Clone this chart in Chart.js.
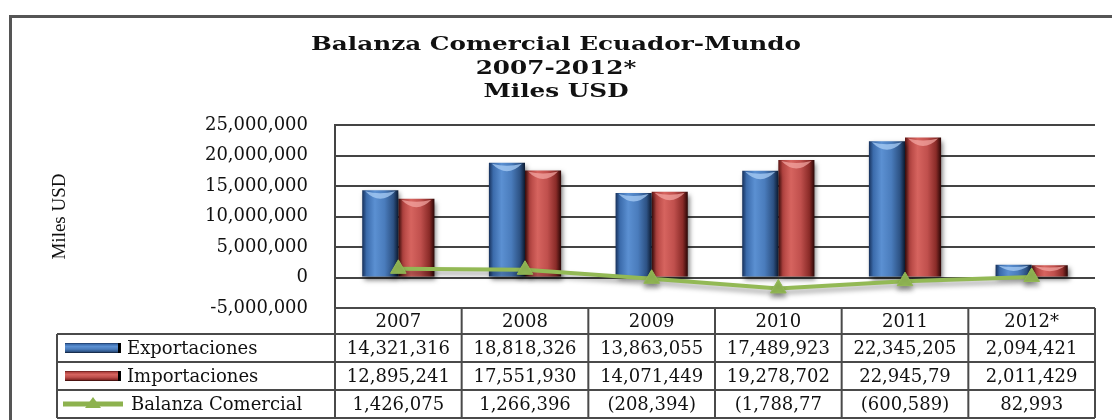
<!DOCTYPE html>
<html lang="es">
<head>
<meta charset="utf-8">
<title>Balanza Comercial Ecuador-Mundo</title>
<script src="https://cdn.jsdelivr.net/npm/chart.js@4.4.1/dist/chart.umd.min.js"></script>
<style>
  html, body { margin: 0; padding: 0; background: #fff; }
  #wrap { width: 1112px; height: 420px; position: relative; }
</style>
</head>
<body>
<div id="wrap"><canvas id="balanzaCanvas"></canvas></div>
<script>
// Balanza Comercial Ecuador-Mundo 2007-2012*, miles USD

const years = ['2007', '2008', '2009', '2010', '2011', '2012*'];
const exportaciones = [14321316, 18818326, 13863055, 17489923, 22345205, 2094421];
const importaciones = [12895241, 17551930, 14071449, 19278702, 22945790, 2011429];
const balanza = [1426075, 1266396, -208394, -1788770, -600589, 82993];

// texts as printed in the source table (two cells are cut off there)
const exportText = ['14,321,316', '18,818,326', '13,863,055', '17,489,923', '22,345,205', '2,094,421'];
const importText = ['12,895,241', '17,551,930', '14,071,449', '19,278,702', '22,945,79', '2,011,429'];
const balanzaText = ['1,426,075', '1,266,396', '(208,394)', '(1,788,77', '(600,589)', '82,993'];

const seriesNames = ['Exportaciones', 'Importaciones', 'Balanza Comercial'];
const titleLines = ['Balanza Comercial Ecuador-Mundo', '2007-2012*', 'Miles USD'];
const yMin = -5000000;
const yMax = 25000000;
const yStep = 5000000;

const SERIF = '"DejaVu Serif", "Liberation Serif", serif';
const GROUP = 0.57; // share of a category taken by the pair of bars

const blueStops = [[0, '#16305a'], [0.12, '#3b6bab'], [0.35, '#5b90d2'], [0.62, '#4a7cbc'], [0.86, '#2d5284'], [1, '#0c1a30']];
const redStops = [[0, '#5a1412'], [0.12, '#b0423f'], [0.35, '#d6645f'], [0.62, '#c0504d'], [0.86, '#8a2b28'], [1, '#2a0605']];

// horizontal gradient for a bar, placed from the x scale
function barFill(context, stops) {
    const chart = context.chart;
    const area = chart.chartArea;
    const xs = chart.scales.x;
    if (!area || !xs) return stops[3][1];
    const catW = (area.right - area.left) / years.length;
    const barW = catW * GROUP / 2;
    const left = xs.getPixelForValue(context.dataIndex) - barW + context.datasetIndex * barW;
    const g = chart.ctx.createLinearGradient(left, 0, left + barW, 0);
    stops.forEach(s => g.addColorStop(s[0], s[1]));
    return g;
}

// soft drop shadow under bars and line
const shadowPlugin = {
    id: 'shadows',
    beforeDatasetDraw(chart, args) {
        const ctx = chart.ctx;
        ctx.save();
        if (args.index === 2) {
            ctx.shadowColor = 'rgba(0,0,0,0.35)';
            ctx.shadowBlur = 5;
            ctx.shadowOffsetY = 4;
        } else {
            ctx.shadowColor = 'rgba(0,0,0,0.55)';
            ctx.shadowBlur = 5;
            ctx.shadowOffsetX = 2;
            ctx.shadowOffsetY = 3;
        }
    },
    afterDatasetDraw(chart, args) {
        chart.ctx.restore();
        if (args.index > 1) return;
        // light cap on top of each cylinder
        const ctx = chart.ctx;
        const cap = args.index === 0 ? 'rgba(170,205,245,0.75)' : 'rgba(245,170,165,0.7)';
        args.meta.data.forEach(bar => {
            const p = bar.getProps(['x', 'y', 'width', 'base']);
            const h = p.base - p.y;
            if (h < 6) return;
            const l = p.x - p.width / 2 + 3;
            const r = p.x + p.width / 2 - 3;
            const d = Math.min(10, h * 0.6);
            ctx.save();
            ctx.fillStyle = cap;
            ctx.beginPath();
            ctx.moveTo(l, p.y + 1);
            ctx.quadraticCurveTo(p.x, p.y + d * 1.6, r, p.y + 1);
            ctx.quadraticCurveTo(p.x, p.y + d * 0.5, l, p.y + 1);
            ctx.fill();
            ctx.restore();
        });
    }
};

// outer frame and title
const framePlugin = {
    id: 'frame',
    beforeDraw(chart) {
        const ctx = chart.ctx;
        ctx.save();
        ctx.fillStyle = '#fff';
        ctx.fillRect(0, 0, chart.width, chart.height);
        ctx.strokeStyle = '#555';
        ctx.lineWidth = 3;
        ctx.beginPath();
        ctx.moveTo(10.5, chart.height + 5);
        ctx.lineTo(10.5, 16.5);
        ctx.lineTo(chart.width + 5, 16.5);
        ctx.stroke();
        ctx.restore();
    },
    afterDraw(chart) {
        const ctx = chart.ctx;
        ctx.save();
        ctx.font = 'bold 19px ' + SERIF;
        ctx.fillStyle = '#111';
        ctx.textAlign = 'center';
        ctx.textBaseline = 'alphabetic';
        titleLines.forEach((t, i) => {
            ctx.save();
            ctx.translate(chart.width / 2, 50 + i * 23.5);
            ctx.scale(1.3, 1);
            ctx.fillText(t, 0, 0);
            ctx.restore();
        });
        ctx.restore();
    }
};

function legendKey(ctx, i, cx, cy) {
    if (i === 2) {
        ctx.strokeStyle = '#8db24e';
        ctx.lineWidth = 5;
        ctx.beginPath();
        ctx.moveTo(cx - 30, cy);
        ctx.lineTo(cx + 30, cy);
        ctx.stroke();
        ctx.fillStyle = '#8db24e';
        ctx.beginPath();
        ctx.moveTo(cx, cy - 7);
        ctx.lineTo(cx + 8, cy + 4);
        ctx.lineTo(cx - 8, cy + 4);
        ctx.closePath();
        ctx.fill();
        return;
    }
    const stops = i === 0 ? blueStops : redStops;
    const g = ctx.createLinearGradient(0, cy - 5, 0, cy + 5);
    stops.forEach(s => g.addColorStop(s[0], s[1]));
    ctx.fillStyle = g;
    ctx.fillRect(cx - 28, cy - 5, 54, 10);
    ctx.fillStyle = '#000';
    ctx.fillRect(cx + 25, cy - 5, 3, 10);
}

// data table under the plot
const tablePlugin = {
    id: 'dataTable',
    afterDraw(chart) {
        const ctx = chart.ctx;
        const area = chart.chartArea;
        const n = years.length;
        const colW = (area.right - area.left) / n;
        const top = area.bottom;
        const headH = 26;
        const rowH = 28;
        const legendLeft = 57;
        const rowsTop = top + headH;
        const bottom = rowsTop + rowH * 3;

        ctx.save();
        ctx.strokeStyle = '#4a4a4a';
        ctx.lineWidth = 2;
        ctx.beginPath();
        ctx.moveTo(area.left, top);
        ctx.lineTo(area.right, top);
        for (let r = 0; r <= 3; r++) {
            ctx.moveTo(legendLeft, rowsTop + r * rowH);
            ctx.lineTo(area.right, rowsTop + r * rowH);
        }
        for (let i = 0; i <= n; i++) {
            ctx.moveTo(area.left + i * colW, top);
            ctx.lineTo(area.left + i * colW, bottom);
        }
        ctx.moveTo(legendLeft, rowsTop);
        ctx.lineTo(legendLeft, bottom);
        ctx.stroke();

        ctx.fillStyle = '#111';
        ctx.font = '18px ' + SERIF;
        ctx.textBaseline = 'middle';
        ctx.textAlign = 'center';
        years.forEach((y, i) => {
            ctx.fillText(y, area.left + (i + 0.5) * colW, top + headH / 2 + 1);
        });
        [exportText, importText, balanzaText].forEach((row, r) => {
            const cy = rowsTop + (r + 0.5) * rowH + 1;
            row.forEach((t, i) => {
                ctx.fillText(t, area.left + (i + 0.5) * colW, cy);
            });
        });

        ctx.textAlign = 'left';
        seriesNames.forEach((name, r) => {
            const cy = rowsTop + (r + 0.5) * rowH;
            legendKey(ctx, r, legendLeft + 36, cy);
            ctx.fillStyle = '#111';
            ctx.fillText(name, r === 2 ? legendLeft + 74 : legendLeft + 70, cy + 1);
        });
        ctx.restore();
    }
};

function createBalanzaChart() {
    const canvas = document.getElementById('balanzaCanvas');
    if (!canvas) return;

    new Chart(canvas.getContext('2d'), {
        type: 'bar',
        data: {
            labels: years,
            datasets: [{
                label: seriesNames[0],
                data: exportaciones,
                backgroundColor: c => barFill(c, blueStops),
                barPercentage: 1,
                categoryPercentage: GROUP,
                order: 1
            }, {
                label: seriesNames[1],
                data: importaciones,
                backgroundColor: c => barFill(c, redStops),
                barPercentage: 1,
                categoryPercentage: GROUP,
                order: 1
            }, {
                type: 'line',
                label: seriesNames[2],
                data: balanza,
                borderColor: '#93b955',
                borderWidth: 4,
                tension: 0,
                pointStyle: 'triangle',
                pointRadius: 9,
                pointBackgroundColor: '#93b955',
                pointBorderColor: '#93b955',
                pointBorderWidth: 1,
                order: 0
            }]
        },
        options: {
            responsive: true,
            maintainAspectRatio: false,
            animation: false,
            layout: { padding: { top: 125, right: 17, bottom: 112, left: 0 } },
            plugins: {
                legend: { display: false },
                title: { display: false },
                tooltip: { enabled: false }
            },
            scales: {
                x: { display: false },
                y: {
                    min: yMin,
                    max: yMax,
                    ticks: {
                        stepSize: yStep,
                        padding: 27,
                        color: '#111',
                        font: { family: SERIF, size: 18 },
                        callback: v => v.toLocaleString('en-US')
                    },
                    grid: { color: '#444', lineWidth: 2, drawTicks: false },
                    border: { color: '#444', width: 2 },
                    title: {
                        display: true,
                        text: 'Miles USD',
                        color: '#111',
                        font: { family: '"Liberation Serif", serif', size: 19 },
                        padding: { top: 49, bottom: 0 }
                    },
                    afterFit: scale => { scale.width = 335; }
                }
            }
        },
        plugins: [framePlugin, shadowPlugin, tablePlugin]
    });
}

window.addEventListener('DOMContentLoaded', createBalanzaChart);
</script>
</body>
</html>
